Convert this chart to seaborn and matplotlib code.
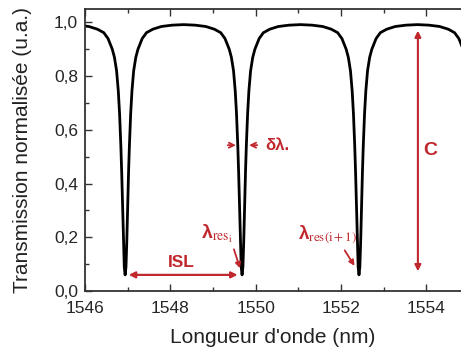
import numpy as np
import pandas as pd
import matplotlib
matplotlib.use("Agg")
import matplotlib.pyplot as plt
from matplotlib.ticker import MultipleLocator, FuncFormatter
import seaborn as sns

# resonance wavelengths (nm), last one is just outside the frame
resonances = [1546.94, 1549.68, 1552.42, 1555.16]

# one dip profile: offset from resonance (nm) -> transmission
detuning = [-1.37, -1.1, -0.85, -0.65, -0.5, -0.4, -0.3, -0.25, -0.2, -0.16, -0.13,
            -0.1, -0.08, -0.06, -0.04, -0.02, 0.0, 0.02, 0.04, 0.06, 0.08, 0.1,
            0.13, 0.16, 0.2, 0.25, 0.3, 0.4, 0.5, 0.65, 0.85, 1.1]
dip_profile = [0.992, 0.99, 0.985, 0.975, 0.962, 0.94, 0.90, 0.87, 0.82, 0.745, 0.66,
               0.54, 0.44, 0.32, 0.19, 0.09, 0.06, 0.09, 0.19, 0.32, 0.44, 0.54,
               0.66, 0.745, 0.82, 0.87, 0.90, 0.94, 0.962, 0.975, 0.985, 0.99]

red = "#c0282d"

rows = []
for c in resonances:
    for d, t in zip(detuning, dip_profile):
        rows.append((c + d, t))
df = pd.DataFrame(rows, columns=["wavelength", "transmission"])

sns.set_style("ticks")
plt.rcParams["font.family"] = ["Liberation Sans", "DejaVu Sans"]
plt.rcParams["mathtext.fontset"] = "stix"

fig = plt.figure(figsize=(4.61, 3.56), dpi=100)
ax = fig.add_axes([0.1844, 0.1826, 0.8156, 0.792])

sns.lineplot(data=df, x="wavelength", y="transmission", color="black",
             linewidth=2, sort=False, estimator=None, ax=ax)

ax.set_xlim(1546, 1554.81)
ax.set_ylim(0, 1.05)
ax.xaxis.set_major_locator(MultipleLocator(2))
ax.xaxis.set_minor_locator(MultipleLocator(1))
ax.yaxis.set_major_locator(MultipleLocator(0.2))
ax.yaxis.set_minor_locator(MultipleLocator(0.1))
ax.yaxis.set_major_formatter(FuncFormatter(lambda v, p: f"{v:.1f}".replace(".", ",")))
ax.tick_params(which="both", direction="in", top=True, labelsize=12.5,
               color="#333333", width=1)
ax.tick_params(which="major", length=5)
ax.tick_params(which="minor", length=3)
ax.tick_params(axis="x", which="major", pad=7)
ax.tick_params(axis="y", which="major", pad=5)
ax.spines["right"].set_visible(False)
for s in ["left", "bottom", "top"]:
    ax.spines[s].set_linewidth(1.3)
    ax.spines[s].set_color("#333333")

ax.set_xlabel("Longueur d'onde (nm)", fontsize=15, color="#222222", labelpad=9)
ax.set_ylabel("Transmission normalisée (u.a.)", fontsize=15, color="#222222", labelpad=16)

# annotations
arr = dict(arrowstyle="->", color=red, lw=1.3, mutation_scale=9)
ax.annotate("", xy=(1549.60, 0.543), xytext=(1549.28, 0.543), arrowprops=arr)
ax.annotate("", xy=(1549.78, 0.543), xytext=(1550.10, 0.543), arrowprops=arr)
ax.text(1550.22, 0.543, "δλ.", color=red, fontsize=12, fontweight="bold", va="center")

ax.annotate("", xy=(1549.64, 0.06), xytext=(1546.96, 0.06),
            arrowprops=dict(arrowstyle="<|-|>", color=red, lw=1.6, mutation_scale=9))
ax.text(1548.25, 0.105, "ISL", color=red, fontsize=12.5, fontweight="bold",
        ha="center", va="center")

ax.text(1548.72, 0.215, r"λ$_{\mathrm{res}_{\mathrm{i}}}$", color=red, fontsize=14,
        fontweight="bold", va="center")
ax.annotate("", xy=(1549.65, 0.075), xytext=(1549.47, 0.165),
            arrowprops=dict(arrowstyle="-|>", color=red, lw=1.3, mutation_scale=8))

ax.text(1550.98, 0.21, r"λ$_{\mathrm{res(i+1)}}$", color=red, fontsize=13.5,
        fontweight="bold", va="center")
ax.annotate("", xy=(1552.35, 0.085), xytext=(1552.05, 0.16),
            arrowprops=dict(arrowstyle="-|>", color=red, lw=1.3, mutation_scale=8))

ax.annotate("", xy=(1553.8, 0.98), xytext=(1553.8, 0.063),
            arrowprops=dict(arrowstyle="<|-|>", color=red, lw=1.5, mutation_scale=9))
ax.text(1553.93, 0.524, "C", color=red, fontsize=14, fontweight="bold", va="center")

fig.savefig("out.png", dpi=100)
